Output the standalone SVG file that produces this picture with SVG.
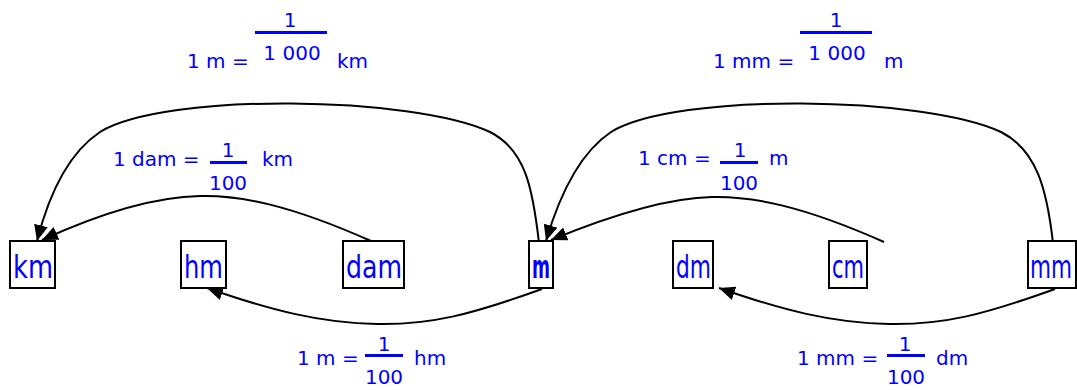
<svg xmlns="http://www.w3.org/2000/svg" width="1077" height="390" viewBox="0 0 1077 390">
  <style>
    .box { fill: #fff; stroke: #000; stroke-width: 2; }
    .nt { font-family: "DejaVu Sans", sans-serif; font-size: 32px; fill: #0000ff; }
    .lb { font-family: "DejaVu Sans", sans-serif; font-size: 20px; fill: #0000ff; }
    .mid { text-anchor: middle; }
    .bar { fill: #0000ff; }
    .edge { fill: none; stroke: #000; stroke-width: 2; marker-end: url(#ah); }
  </style>
  <defs>
    <marker id="ah" markerUnits="userSpaceOnUse" markerWidth="17" markerHeight="14" refX="16" refY="7" orient="auto">
      <path d="M0,0 L16,7 L0,14 z" fill="#000"/>
    </marker>
  </defs>
  <rect width="1077" height="390" fill="#fff"/>

  <g id="connectors">
    <path class="edge" d="M539,243 C533,190 526,150 490,132 C414,96 165,92 100,132 C70,152 50,190 37,241"/>
    <path class="edge" d="M371,241 C290,205 240,195 200,196 C150,197 90,218 42,240"/>
    <path class="edge" d="M542,289 C470,315 430,325 377,324 C320,323 270,310 207,288"/>
    <path class="edge" d="M1053,243 C1047,190 1037,150 1001,132 C925,96 676,92 611,132 C581,152 561,190 546,241"/>
    <path class="edge" d="M884,242 C803,206 752,196 712,197 C662,198 602,219 551,240"/>
    <path class="edge" d="M1055,289 C983,315 943,325 889,324 C832,323 782,310 719,288"/>
  </g>

  <g id="node-km"><rect class="box" x="10" y="241" width="45" height="47"/><text class="nt" x="13" y="278" textLength="40" lengthAdjust="spacingAndGlyphs">km</text></g>
  <g id="node-hm"><rect class="box" x="181" y="241" width="45" height="47"/><text class="nt" x="184" y="278" textLength="39" lengthAdjust="spacingAndGlyphs">hm</text></g>
  <g id="node-dam"><rect class="box" x="343" y="241" width="61" height="47"/><text class="nt" x="346" y="278" textLength="56" lengthAdjust="spacingAndGlyphs">dam</text></g>
  <g id="node-m"><rect class="box" x="529" y="241" width="24" height="47"/><text class="nt" x="532" y="278" font-weight="bold" textLength="18" lengthAdjust="spacingAndGlyphs">m</text></g>
  <g id="node-dm"><rect class="box" x="673" y="241" width="40" height="47"/><text class="nt" x="676" y="278" textLength="35" lengthAdjust="spacingAndGlyphs">dm</text></g>
  <g id="node-cm"><rect class="box" x="829" y="241" width="38" height="47"/><text class="nt" x="832" y="278" textLength="32" lengthAdjust="spacingAndGlyphs">cm</text></g>
  <g id="node-mm"><rect class="box" x="1028" y="241" width="48" height="47"/><text class="nt" x="1030" y="278" textLength="42" lengthAdjust="spacingAndGlyphs">mm</text></g>

  <g id="label-m-km">
    <text class="lb" x="187" y="68">1 m =</text>
    <text class="lb mid" x="290" y="27">1</text>
    <rect class="bar" x="255" y="31" width="72" height="3"/>
    <text class="lb mid" x="292" y="60">1 000</text>
    <text class="lb" x="337" y="68">km</text>
  </g>
  <g id="label-mm-m">
    <text class="lb" x="713" y="68">1 mm =</text>
    <text class="lb mid" x="836" y="27">1</text>
    <rect class="bar" x="800" y="31" width="72" height="3"/>
    <text class="lb mid" x="837" y="60">1 000</text>
    <text class="lb" x="884" y="68">m</text>
  </g>
  <g id="label-dam-km">
    <text class="lb" x="113" y="166">1 dam =</text>
    <text class="lb mid" x="228" y="157">1</text>
    <rect class="bar" x="210" y="161" width="37" height="3"/>
    <text class="lb mid" x="228" y="190">100</text>
    <text class="lb" x="262" y="166">km</text>
  </g>
  <g id="label-cm-m">
    <text class="lb" x="638" y="165">1 cm =</text>
    <text class="lb mid" x="740" y="157">1</text>
    <rect class="bar" x="720" y="161" width="38" height="3"/>
    <text class="lb mid" x="739" y="190">100</text>
    <text class="lb" x="769" y="165">m</text>
  </g>
  <g id="label-m-hm">
    <text class="lb" x="297" y="365">1 m =</text>
    <text class="lb mid" x="384" y="351">1</text>
    <rect class="bar" x="365" y="354" width="38" height="3"/>
    <text class="lb mid" x="384" y="384">100</text>
    <text class="lb" x="414" y="365">hm</text>
  </g>
  <g id="label-mm-dm">
    <text class="lb" x="797" y="365">1 mm =</text>
    <text class="lb mid" x="905" y="351">1</text>
    <rect class="bar" x="887" y="354" width="38" height="3"/>
    <text class="lb mid" x="906" y="384">100</text>
    <text class="lb" x="936" y="365">dm</text>
  </g>
</svg>
